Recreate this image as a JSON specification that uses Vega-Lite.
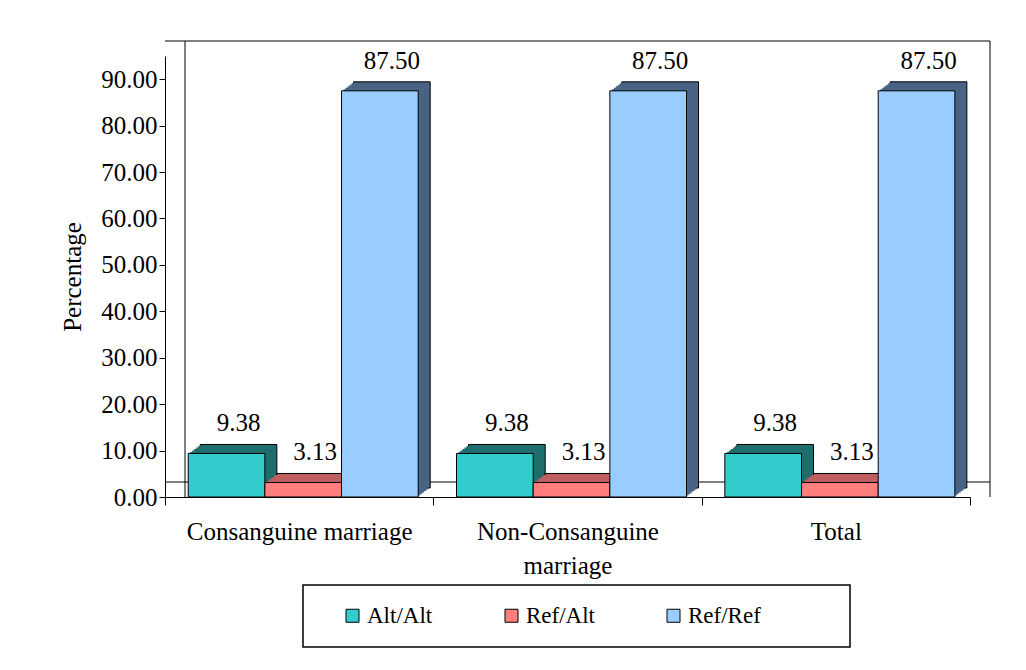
{
  "$schema": "https://vega.github.io/schema/vega-lite/v6.json",
  "width": 805,
  "height": 441,
  "autosize": {"type": "none"},
  "padding": {"left": 165, "top": 56, "right": 56, "bottom": 173},
  "background": "white",
  "config": {
    "view": {"stroke": null},
    "font": "Liberation Serif",
    "legend": {"strokeWidth": 1.5}
  },
  "data": {
    "values": [
      {"cat": "Consanguine marriage", "series": "Alt/Alt", "value": 9.38},
      {"cat": "Consanguine marriage", "series": "Ref/Alt", "value": 3.13},
      {"cat": "Consanguine marriage", "series": "Ref/Ref", "value": 87.5},
      {"cat": "Non-Consanguine marriage", "series": "Alt/Alt", "value": 9.38},
      {"cat": "Non-Consanguine marriage", "series": "Ref/Alt", "value": 3.13},
      {"cat": "Non-Consanguine marriage", "series": "Ref/Ref", "value": 87.5},
      {"cat": "Total", "series": "Alt/Alt", "value": 9.38},
      {"cat": "Total", "series": "Ref/Alt", "value": 3.13},
      {"cat": "Total", "series": "Ref/Ref", "value": 87.5}
    ]
  },
  "layer": [
    {
      "data": {"values": [{}]},
      "mark": {"type": "rule", "color": "black", "xOffset": 20, "x2Offset": 20, "yOffset": -15},
      "encoding": {"y": {"datum": 95, "type": "quantitative"}}
    },
    {
      "data": {"values": [{}]},
      "mark": {"type": "rule", "color": "black", "xOffset": 20, "x2Offset": 20, "yOffset": -15},
      "encoding": {"y": {"datum": 0, "type": "quantitative"}}
    },
    {
      "data": {"values": [{}]},
      "mark": {"type": "rule", "color": "black", "xOffset": 20, "yOffset": -15, "y2Offset": -15},
      "encoding": {"x": {"datum": "Consanguine marriage", "type": "nominal", "bandPosition": 0}}
    },
    {
      "data": {"values": [{}]},
      "mark": {"type": "rule", "color": "black", "xOffset": 20, "yOffset": -15, "y2Offset": -15},
      "encoding": {"x": {"datum": "Total", "type": "nominal", "bandPosition": 1}}
    },
    {
      "encoding": {
        "x": {
          "field": "cat",
          "type": "nominal",
          "sort": ["Consanguine marriage", "Non-Consanguine marriage", "Total"],
          "scale": {"paddingInner": 0, "paddingOuter": 0},
          "axis": {
            "title": null,
            "labelAngle": 0,
            "labelAlign": "center",
            "labelFontSize": 25,
            "labelColor": "black",
            "labelFont": "Liberation Serif",
            "labelLimit": 500,
            "domainColor": "black",
            "tickColor": "black",
            "tickBand": "extent",
            "tickSize": 8,
            "labelPadding": 26,
            "labelLineHeight": 34,
            "labelExpr": "datum.value == 'Non-Consanguine marriage' ? ['Non-Consanguine', 'marriage'] : datum.value"
          }
        },
        "y": {
          "field": "value",
          "type": "quantitative",
          "scale": {"domain": [0, 95], "nice": false},
          "axis": {
            "values": [0, 10, 20, 30, 40, 50, 60, 70, 80, 90],
            "format": ".2f",
            "title": "Percentage",
            "titleFontSize": 25,
            "titleFontWeight": "normal",
            "titleFont": "Liberation Serif",
            "titleColor": "black",
            "titlePadding": 15,
            "labelFontSize": 25,
            "labelFont": "Liberation Serif",
            "labelColor": "black",
            "grid": false,
            "domainColor": "black",
            "tickColor": "black",
            "tickSize": 6,
            "labelPadding": 2
          }
        }
      },
      "layer": [
        {
          "encoding": {
            "color": {
              "field": "series",
              "type": "nominal",
              "scale": {"domain": ["Alt/Alt", "Ref/Alt", "Ref/Ref"], "range": ["#1F6E6E", "#C05F60", "#4A6384"]},
              "legend": null
            }
          },
          "layer": [
            {
              "mark": {"type": "bar", "yOffset": -9, "y2Offset": -9, "stroke": "black", "strokeWidth": 1},
              "encoding": {"xOffset": {"field": "series", "type": "nominal", "sort": ["Alt/Alt", "Ref/Alt", "Ref/Ref"], "scale": {"paddingInner": 0, "paddingOuter": 0.25, "align": 0.918}}}
            },
            {
              "mark": {"type": "bar", "yOffset": -7.5, "y2Offset": -7.5},
              "encoding": {"xOffset": {"field": "series", "type": "nominal", "sort": ["Alt/Alt", "Ref/Alt", "Ref/Ref"], "scale": {"paddingInner": 0, "paddingOuter": 0.25, "align": 0.866}}}
            },
            {
              "mark": {"type": "bar", "yOffset": -6, "y2Offset": -6},
              "encoding": {"xOffset": {"field": "series", "type": "nominal", "sort": ["Alt/Alt", "Ref/Alt", "Ref/Ref"], "scale": {"paddingInner": 0, "paddingOuter": 0.25, "align": 0.814}}}
            },
            {
              "mark": {"type": "bar", "yOffset": -4.5, "y2Offset": -4.5},
              "encoding": {"xOffset": {"field": "series", "type": "nominal", "sort": ["Alt/Alt", "Ref/Alt", "Ref/Ref"], "scale": {"paddingInner": 0, "paddingOuter": 0.25, "align": 0.761}}}
            },
            {
              "mark": {"type": "bar", "yOffset": -3, "y2Offset": -3},
              "encoding": {"xOffset": {"field": "series", "type": "nominal", "sort": ["Alt/Alt", "Ref/Alt", "Ref/Ref"], "scale": {"paddingInner": 0, "paddingOuter": 0.25, "align": 0.709}}}
            },
            {
              "mark": {"type": "bar", "yOffset": -1.5, "y2Offset": -1.5},
              "encoding": {"xOffset": {"field": "series", "type": "nominal", "sort": ["Alt/Alt", "Ref/Alt", "Ref/Ref"], "scale": {"paddingInner": 0, "paddingOuter": 0.25, "align": 0.657}}}
            }
          ],
          "resolve": {"scale": {"xOffset": "independent"}}
        },
        {
          "mark": {"type": "bar", "stroke": "black", "strokeWidth": 1},
          "encoding": {
            "xOffset": {"field": "series", "type": "nominal", "sort": ["Alt/Alt", "Ref/Alt", "Ref/Ref"], "scale": {"paddingInner": 0, "paddingOuter": 0.25, "align": 0.605}},
            "color": {
              "field": "series",
              "type": "nominal",
              "scale": {"domain": ["Alt/Alt", "Ref/Alt", "Ref/Ref"], "range": ["#33CCCC", "#FF7F7F", "#99CCFF"]},
              "legend": {
                "title": " ",
                "titleOrient": "right",
                "titlePadding": 70,
                "orient": "none",
                "legendX": 138,
                "legendY": 529,
                "direction": "horizontal",
                "columns": 3,
                "columnPadding": 48,
                "symbolType": "square",
                "symbolSize": 169,
                "symbolStrokeColor": "black",
                "symbolStrokeWidth": 1,
                "labelFontSize": 23,
                "labelFont": "Liberation Serif",
                "labelColor": "black",
                "labelOffset": 3,
                "strokeColor": "black",
                "padding": 19,
                "symbolOffset": 19
              }
            }
          }
        },
        {
          "mark": {"type": "text", "dx": 12, "dy": -30, "fontSize": 25, "baseline": "middle", "align": "center", "color": "black", "font": "Liberation Serif"},
          "encoding": {
            "xOffset": {"field": "series", "type": "nominal", "sort": ["Alt/Alt", "Ref/Alt", "Ref/Ref"], "scale": {"type": "band", "paddingInner": 0, "paddingOuter": 0.25, "align": 0.605}},
            "text": {"field": "value", "type": "quantitative", "format": ".2f"}
          }
        }
      ],
      "resolve": {"scale": {"color": "independent", "xOffset": "independent"}}
    }
  ]
}
